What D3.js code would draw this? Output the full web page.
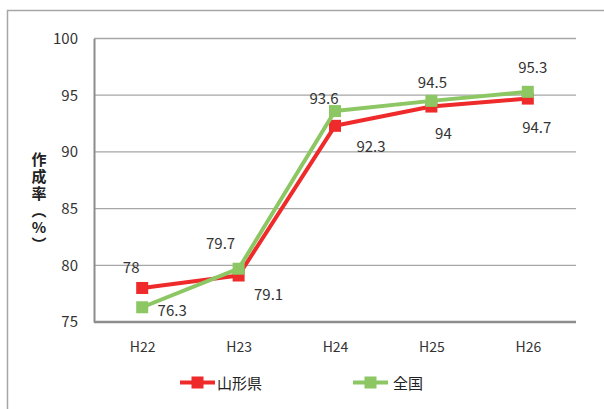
<!DOCTYPE html>
<html>
<head>
<meta charset="utf-8">
<script src="https://cdn.jsdelivr.net/npm/d3@7"></script>
<style>
  html, body { margin: 0; padding: 0; background: #fff; }
  svg { display: block; font-family: "Noto Sans CJK JP", "Noto Sans", sans-serif; }
</style>
</head>
<body>
<svg id="chart" width="604" height="409"></svg>
<script>
// 作成率の推移（山形県・全国）
const years = ["H22", "H23", "H24", "H25", "H26"];
const yamagata = [78, 79.1, 92.3, 94, 94.7];
const zenkoku = [76.3, 79.7, 93.6, 94.5, 95.3];
const yTicks = [75, 80, 85, 90, 95, 100];
const seriesNames = ["山形県", "全国"];
const yTitle = "作成率（%）";

// label placement per point: [dx, dy] relative to marker centre
const yamagataLabelOffsets = [[-11, -21], [30, 18], [36, 20], [12, 26], [9, 28]];
const zenkokuLabelOffsets = [[30, 2], [-18, -26], [-11, -14], [1, -19], [5, -25]];

const colors = ["#ee2a2a", "#8cc764"];

const svg = d3.select("#chart");

// outer frame (top and left edges)
svg.append("path")
  .attr("d", "M7.5,409 V10.5 H604")
  .attr("fill", "none")
  .attr("stroke", "#a6a6a6")
  .attr("stroke-width", 1.5);

const plot = { left: 94, right: 576, top: 38.5, bottom: 322 };

const x = d3.scalePoint().domain(years).range([plot.left, plot.right]).padding(0.5);
const y = d3.scaleLinear().domain([75, 100]).range([plot.bottom, plot.top]);

// horizontal gridlines
svg.append("g")
  .selectAll("line")
  .data(yTicks.filter(t => t !== 75))
  .join("line")
  .attr("x1", plot.left).attr("x2", plot.right)
  .attr("y1", d => y(d)).attr("y2", d => y(d))
  .attr("stroke", "#a6a6a6").attr("stroke-width", 1.3);

// y axis
const yAxis = svg.append("g")
  .attr("transform", `translate(${plot.left},0)`)
  .call(d3.axisLeft(y).tickValues(yTicks).tickSize(0).tickPadding(16));
yAxis.select(".domain").attr("stroke", "#8c8c8c").attr("stroke-width", 2);
yAxis.selectAll("text")
  .attr("font-size", 15)
  .attr("fill", "#333")
  .attr("font-family", "'Noto Sans CJK JP', sans-serif");

// x axis
const xAxis = svg.append("g")
  .attr("transform", `translate(0,${plot.bottom})`)
  .call(d3.axisBottom(x).tickSize(0).tickPadding(20));
xAxis.select(".domain")
  .attr("d", `M${plot.left},0H${plot.right}`)
  .attr("stroke", "#8c8c8c").attr("stroke-width", 2.5);
xAxis.selectAll("text")
  .attr("font-size", 14)
  .attr("fill", "#333")
  .attr("font-family", "'Noto Sans CJK JP', sans-serif");

// y axis title, set in vertical writing mode
svg.append("text")
  .attr("x", 39)
  .attr("y", 152)
  .attr("font-weight", "bold")
  .attr("fill", "#222")
  .attr("font-size", 15)
  .style("writing-mode", "vertical-rl")
  .style("text-orientation", "upright")
  .style("letter-spacing", "2px")
  .text(yTitle);

// series lines and markers
const allSeries = [yamagata, zenkoku];
const allOffsets = [yamagataLabelOffsets, zenkokuLabelOffsets];
const line = d3.line().x((d, i) => x(years[i])).y(d => y(d));

allSeries.forEach((vals, s) => {
  svg.append("path")
    .datum(vals)
    .attr("d", line)
    .attr("fill", "none")
    .attr("stroke", colors[s])
    .attr("stroke-width", 4)
    .attr("stroke-linejoin", "round");
  svg.append("g")
    .selectAll("rect")
    .data(vals)
    .join("rect")
    .attr("x", (d, i) => x(years[i]) - 6)
    .attr("y", d => y(d) - 6)
    .attr("width", 12).attr("height", 12)
    .attr("fill", colors[s]);
});

// data labels
allSeries.forEach((vals, s) => {
  svg.append("g")
    .selectAll("text")
    .data(vals)
    .join("text")
    .attr("x", (d, i) => x(years[i]) + allOffsets[s][i][0])
    .attr("y", (d, i) => y(d) + allOffsets[s][i][1])
    .attr("text-anchor", "middle")
    .attr("dominant-baseline", "central")
    .attr("font-size", 15)
    .attr("fill", "#333")
    .text(d => d);
});

// legend
const legendItems = [
  { x0: 180, x1: 215, tx: 217 },
  { x0: 353, x1: 388, tx: 393 }
];
const legendY = 382.5;
legendItems.forEach((it, s) => {
  const g = svg.append("g");
  g.append("line")
    .attr("x1", it.x0).attr("x2", it.x1)
    .attr("y1", legendY).attr("y2", legendY)
    .attr("stroke", colors[s]).attr("stroke-width", 4);
  g.append("rect")
    .attr("x", (it.x0 + it.x1) / 2 - 6)
    .attr("y", legendY - 6)
    .attr("width", 12).attr("height", 12)
    .attr("fill", colors[s]);
  g.append("text")
    .attr("x", it.tx)
    .attr("y", legendY)
    .attr("dominant-baseline", "central")
    .attr("font-size", 15)
    .attr("fill", "#222")
    .text(seriesNames[s]);
});
</script>
</body>
</html>
